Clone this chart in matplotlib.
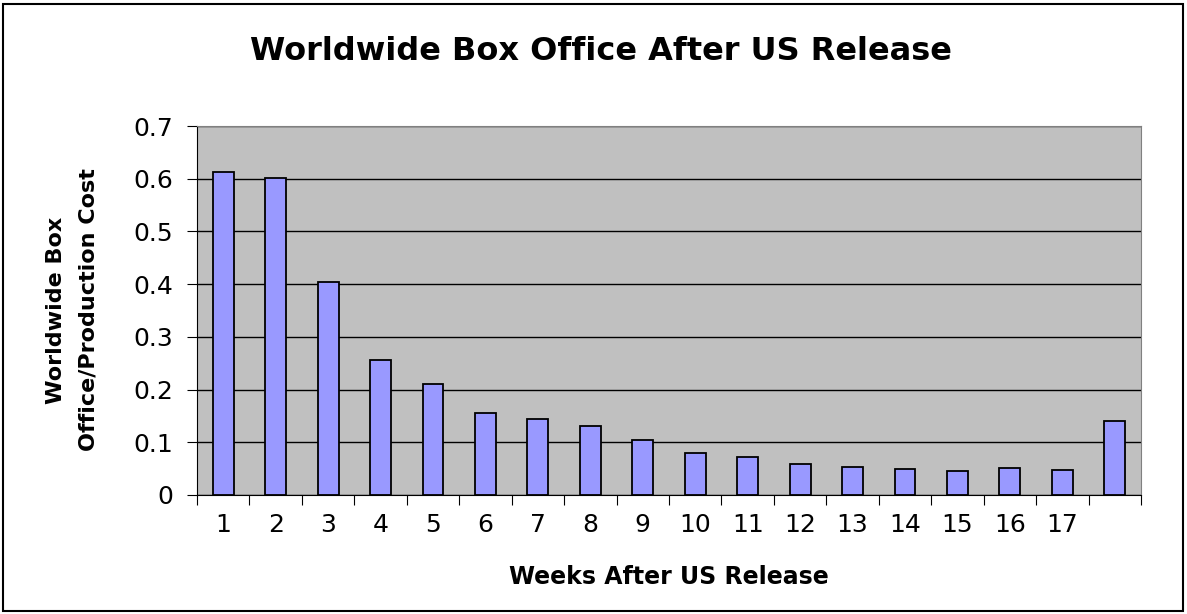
import numpy as np
import matplotlib
matplotlib.use("Agg")
import matplotlib.pyplot as plt
from matplotlib.patches import Rectangle

plt.rcParams['font.family'] = ['DejaVu Sans']

weeks = list(range(1, 19))
week_labels = [str(w) for w in range(1, 18)] + [""]
ratio = [0.613, 0.601, 0.404, 0.257, 0.211, 0.156, 0.144, 0.131, 0.104,
         0.079, 0.073, 0.058, 0.054, 0.049, 0.046, 0.052, 0.048, 0.141]

W, H = 1187, 614
fig = plt.figure(figsize=(W / 100, H / 100), dpi=100)
ax = fig.add_axes([197 / W, 1 - 495 / H, (1141 - 197) / W, (495 - 126) / H])

# outer chart border
fig.patches.append(Rectangle((3 / W, 3 / H), 1 - 7 / W, 1 - 7 / H,
                             transform=fig.transFigure, fill=False,
                             edgecolor='black', lw=1.5))

ax.set_facecolor('#C0C0C0')
ax.bar(weeks, ratio, width=0.4, color='#9999FF', edgecolor='black', lw=1.3, zorder=3)

ax.set_xlim(0.5, 18.5)
ax.set_ylim(0, 0.7)
ax.set_yticks(np.arange(0, 0.71, 0.1))
ax.set_yticklabels(['0'] + ['%.1f' % v for v in np.arange(0.1, 0.71, 0.1)], fontsize=18)
ax.yaxis.grid(True, color='black', lw=1, zorder=1)
ax.set_axisbelow(True)

# ticks between categories, labels at centres
ax.set_xticks(np.arange(0.5, 19, 1))
ax.set_xticklabels([])
ax.set_xticks(weeks, minor=True)
ax.set_xticklabels(week_labels, minor=True, fontsize=18)
ax.tick_params(axis='x', which='minor', length=0, pad=13)
ax.tick_params(axis='x', which='major', length=7, direction='out')
ax.tick_params(axis='y', length=7, direction='out', pad=10)

for s in ['top', 'right']:
    ax.spines[s].set_color('#808080')
ax.spines['left'].set_color('black')
ax.spines['bottom'].set_color('black')

fig.text(601 / W, 1 - 52 / H, 'Worldwide Box Office After US Release',
         ha='center', va='center', fontsize=23, fontweight='bold')
fig.text(669 / W, 1 - 577 / H, 'Weeks After US Release',
         ha='center', va='center', fontsize=17, fontweight='bold')
fig.text(72 / W, 1 - 310 / H, 'Worldwide Box\nOffice/Production Cost',
         ha='center', va='center', rotation=90, fontsize=16, fontweight='bold',
         linespacing=1.75)

fig.savefig('out.png', dpi=100)
